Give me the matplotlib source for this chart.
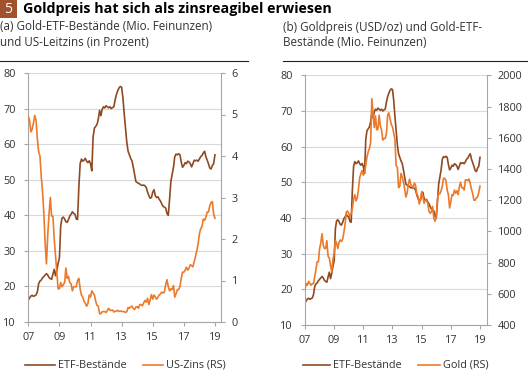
import numpy as np
import matplotlib.pyplot as plt
from matplotlib.lines import Line2D
from matplotlib.patches import Rectangle

plt.rcParams['font.family'] = ['Open Sans', 'DejaVu Sans']

W, H = 528, 373
BRAUN = '#8f4a22'
ORANGE = '#ec7a2a'
GRAU = '#a6a6a6'
TEXT = '#333333'

# Gold-ETF-Bestände (Mio. Feinunzen), monatlich Jan 2007 - Jan 2019
etf = [16.2, 16.8, 17.3, 17.5, 17.2, 17.4, 17.6, 18.5, 20.8, 21.5, 21.8, 22.4,
       22.8, 23.2, 23.6, 23.2, 22.5, 22.2, 22.0, 23.5, 24.8, 23.0, 24.5, 26.5,
       28.0, 37.0, 39.2, 39.5, 39.0, 38.2, 38.0, 38.8, 39.8, 40.3, 41.0, 40.5,
       40.3, 39.0, 38.8, 48.0, 54.5, 55.8, 55.2, 55.5, 56.0, 55.2, 54.8, 55.3,
       54.5, 52.5, 62.0, 64.5, 65.0, 65.5, 67.0, 69.5, 68.0, 69.8, 70.5, 70.2,
       70.8, 70.5, 70.2, 70.5, 70.0, 70.3, 70.5, 72.5, 74.0, 75.0, 75.8, 76.2,
       76.0, 73.0, 68.5, 64.5, 60.5, 58.0, 57.0, 56.0, 55.3, 53.5, 51.5, 49.5,
       49.2, 49.0, 48.8, 48.5, 48.4, 48.5, 48.3, 47.8, 46.5, 45.5, 44.8, 45.0,
       46.5, 47.2, 45.5, 45.0, 45.2, 44.5, 44.0, 43.2, 42.5, 42.3, 42.0, 40.5,
       40.0, 44.5, 49.5, 51.5, 53.5, 56.5, 57.2, 57.0, 57.3, 57.0, 55.0, 53.5,
       54.0, 54.8, 54.5, 55.2, 55.0, 54.5, 53.6, 54.5, 55.5, 55.3, 55.5, 55.2,
       55.8, 56.5, 56.8, 57.5, 58.0, 56.5, 55.5, 54.5, 53.3, 53.0, 54.0, 54.5,
       57.0]

# US-Zins (Prozent)
zins = [4.95, 4.85, 4.58, 4.65, 4.80, 4.98, 4.85, 4.40, 4.10, 4.00, 3.50, 3.15,
        2.60, 1.90, 1.40, 2.10, 2.60, 3.00, 2.55, 2.55, 2.00, 1.60, 1.20, 0.80,
        0.80, 0.95, 0.85, 0.90, 0.95, 1.30, 1.05, 1.10, 0.95, 0.92, 0.75, 0.85,
        0.85, 0.85, 1.00, 1.05, 0.80, 0.65, 0.60, 0.50, 0.45, 0.38, 0.45, 0.65,
        0.60, 0.75, 0.70, 0.65, 0.50, 0.40, 0.38, 0.20, 0.20, 0.25, 0.25, 0.25,
        0.23, 0.28, 0.33, 0.28, 0.28, 0.29, 0.24, 0.26, 0.26, 0.28, 0.26, 0.26,
        0.26, 0.25, 0.25, 0.23, 0.25, 0.35, 0.33, 0.37, 0.38, 0.33, 0.30, 0.36,
        0.37, 0.33, 0.42, 0.42, 0.39, 0.46, 0.52, 0.48, 0.57, 0.42, 0.53, 0.66,
        0.55, 0.65, 0.60, 0.55, 0.60, 0.65, 0.68, 0.72, 0.70, 0.72, 0.90, 1.02,
        0.85, 0.75, 0.80, 0.78, 0.88, 0.60, 0.68, 0.78, 0.78, 0.85, 1.05, 1.20,
        1.20, 1.25, 1.32, 1.25, 1.30, 1.38, 1.36, 1.33, 1.45, 1.58, 1.72, 1.88,
        2.12, 2.25, 2.30, 2.48, 2.45, 2.52, 2.65, 2.65, 2.80, 2.88, 2.90, 2.60,
        2.50]

# Goldpreis (USD/oz)
gold = [630, 665, 655, 680, 665, 655, 665, 665, 710, 755, 805, 805,
        890, 925, 985, 910, 890, 890, 940, 840, 830, 780, 740, 820,
        860, 940, 925, 890, 930, 945, 935, 950, 995, 1045, 1125, 1130,
        1115, 1095, 1115, 1150, 1205, 1235, 1195, 1215, 1270, 1345, 1370, 1390,
        1360, 1375, 1425, 1475, 1510, 1530, 1570, 1850, 1760, 1665, 1740, 1650,
        1655, 1745, 1675, 1650, 1585, 1595, 1595, 1625, 1745, 1760, 1720, 1685,
        1670, 1630, 1590, 1420, 1410, 1280, 1290, 1370, 1350, 1315, 1275, 1220,
        1245, 1300, 1335, 1300, 1290, 1280, 1310, 1295, 1240, 1225, 1175, 1200,
        1255, 1225, 1180, 1200, 1200, 1180, 1130, 1115, 1125, 1160, 1085, 1065,
        1095, 1210, 1245, 1240, 1260, 1290, 1340, 1340, 1325, 1265, 1235, 1150,
        1190, 1235, 1230, 1265, 1245, 1260, 1235, 1285, 1315, 1280, 1280, 1265,
        1330, 1330, 1325, 1335, 1305, 1270, 1240, 1200, 1200, 1215, 1220, 1250,
        1290]

jahre = 2007 + np.arange(len(etf)) / 12
xticks = [2007, 2009, 2011, 2013, 2015, 2017, 2019]
xlabels = ['07', '09', '11', '13', '15', '17', '19']


def box(x0, y0, x1, y1):
    return [x0 / W, 1 - y1 / H, (x1 - x0) / W, (y1 - y0) / H]


def style(ax, ax2):
    for a in (ax, ax2):
        for s in a.spines.values():
            s.set_visible(False)
        a.tick_params(colors=GRAU, labelcolor=TEXT, labelsize=7.8, length=3, width=0.8)
    ax.spines['left'].set_visible(True)
    ax.spines['bottom'].set_visible(True)
    ax2.spines['right'].set_visible(True)
    for k in ('left', 'bottom'):
        ax.spines[k].set_color(GRAU)
        ax.spines[k].set_linewidth(0.8)
    ax2.spines['right'].set_color(GRAU)
    ax2.spines['right'].set_linewidth(0.8)
    ax.tick_params(axis='y', pad=6)
    ax2.tick_params(axis='y', pad=5)
    ax.tick_params(axis='x', pad=4)
    ax.grid(axis='y', color='#d9d9d9', linewidth=0.8)
    ax.set_axisbelow(True)
    ax.set_xticks(xticks)
    ax.set_xticklabels(xlabels)
    ax.set_ylim(10, 80)
    ax.set_yticks(range(10, 81, 10))


fig = plt.figure(figsize=(W / 100, H / 100), dpi=100)

# (a)
ax1 = fig.add_axes(box(28.3, 73, 220.7, 322))
ax1.plot(jahre, etf, color=BRAUN, lw=1.2)
ax1.set_xlim(2007, 2019.37)
ax1b = ax1.twinx()
ax1b.plot(jahre, zins, color=ORANGE, lw=1.2)
ax1b.set_ylim(0, 6)
ax1b.set_yticks(range(0, 7))
style(ax1, ax1b)

# (b)
ax2 = fig.add_axes(box(305, 75.3, 486.7, 325))
ax2.plot(jahre, etf, color=BRAUN, lw=1.2)
ax2.set_xlim(2007, 2019.46)
ax2b = ax2.twinx()
ax2b.plot(jahre, gold, color=ORANGE, lw=1.2)
ax2b.set_ylim(400, 2000)
ax2b.set_yticks(range(400, 2001, 200))
style(ax2, ax2b)

# Titel
fig.patches.append(Rectangle((0, 1 - 18 / H), 17 / W, 18 / H, transform=fig.transFigure,
                             facecolor='#a0522d', edgecolor='none'))
fig.text(8.5 / W, 1 - 9.5 / H, '5', color='white', fontsize=10, ha='center', va='center')
fig.text(23 / W, 1 - 9.5 / H, 'Goldpreis hat sich als zinsreagibel erwiesen',
         fontsize=10.3, fontweight='bold', color='black', ha='left', va='center')

fig.text(0, 1 - 27 / H, '(a) Gold-ETF-Bestände (Mio. Feinunzen)', fontsize=8.4, color=TEXT, va='center')
fig.text(0, 1 - 43 / H, 'und US-Leitzins (in Prozent)', fontsize=8.4, color=TEXT, va='center')
fig.text(283 / W, 1 - 27 / H, '(b) Goldpreis (USD/oz) und Gold-ETF-', fontsize=8.4, color=TEXT, va='center')
fig.text(283 / W, 1 - 43 / H, 'Bestände (Mio. Feinunzen)', fontsize=8.4, color=TEXT, va='center')
fig.lines.append(Line2D([0, 248 / W], [1 - 61 / H] * 2, transform=fig.transFigure, color='#222222', lw=0.8))
fig.lines.append(Line2D([283 / W, 1], [1 - 61 / H] * 2, transform=fig.transFigure, color='#222222', lw=0.8))

# Legenden
legende = [(25, 55, BRAUN, 'ETF-Bestände'), (143, 163, ORANGE, 'US-Zins (RS)'),
           (303, 330, BRAUN, 'ETF-Bestände'), (418, 440, ORANGE, 'Gold (RS)')]
for x0, x1, farbe, label in legende:
    fig.lines.append(Line2D([x0 / W, x1 / W], [1 - 365 / H] * 2, transform=fig.transFigure,
                            color=farbe, lw=1.2))
    fig.text((x1 + 3) / W, 1 - 365 / H, label, fontsize=7.8, color=TEXT, va='center')

fig.savefig('out.png', dpi=100)
